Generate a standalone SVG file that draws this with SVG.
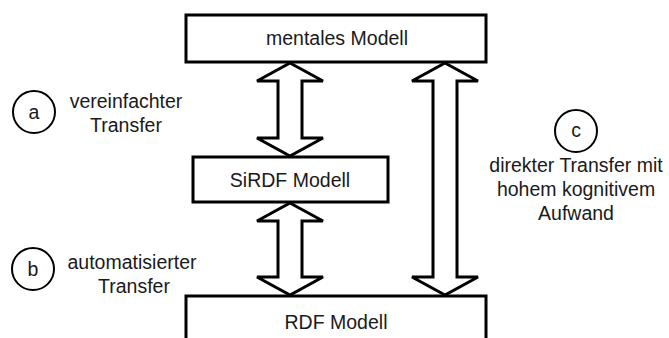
<svg xmlns="http://www.w3.org/2000/svg" width="669" height="338" viewBox="0 0 669 338">
<style>
.box{fill:#fff;stroke:#000;stroke-width:3}
.arr{fill:#fff;stroke:#000;stroke-width:3;stroke-linejoin:miter}
.circ{fill:#fff;stroke:#000;stroke-width:2}
text{font-family:"Liberation Sans",Arial,sans-serif;font-size:19.5px;fill:#1a1a1a;text-anchor:middle}
</style>
<rect width="669" height="338" fill="#fff"/>
<g id="connectors">
<polygon class="arr" points="290,63 323,81 302,81 302,138 323,138 290,156 257,138 278,138 278,81 257,81"/>
<polygon class="arr" points="290,203 323,221 302,221 302,277 323,277 290,295 257,277 278,277 278,221 257,221"/>
<polygon class="arr" points="445,63 478,81 457,81 457,277 478,277 445,295 412,277 433,277 433,81 412,81"/>
</g>
<g id="mentales">
<rect class="box" x="186" y="15" width="300" height="47"/>
<text x="337" y="45">mentales Modell</text>
</g>
<g id="sirdf">
<rect class="box" x="193" y="157" width="195" height="45"/>
<text x="290" y="187">SiRDF Modell</text>
</g>
<g id="rdf">
<rect class="box" x="186" y="296" width="300" height="60"/>
<text x="336" y="329">RDF Modell</text>
</g>
<g id="label-a">
<circle class="circ" cx="34" cy="112" r="21"/>
<text x="34" y="119">a</text>
<text x="126" y="108">vereinfachter</text>
<text x="126" y="132">Transfer</text>
</g>
<g id="label-b">
<circle class="circ" cx="33" cy="269" r="21"/>
<text x="33" y="276">b</text>
<text x="132" y="269">automatisierter</text>
<text x="134" y="293">Transfer</text>
</g>
<g id="label-c">
<circle class="circ" cx="576" cy="131" r="21"/>
<text x="576" y="137">c</text>
<text x="576" y="172">direkter Transfer mit</text>
<text x="576" y="196">hohem kognitivem</text>
<text x="576" y="220">Aufwand</text>
</g>
</svg>
